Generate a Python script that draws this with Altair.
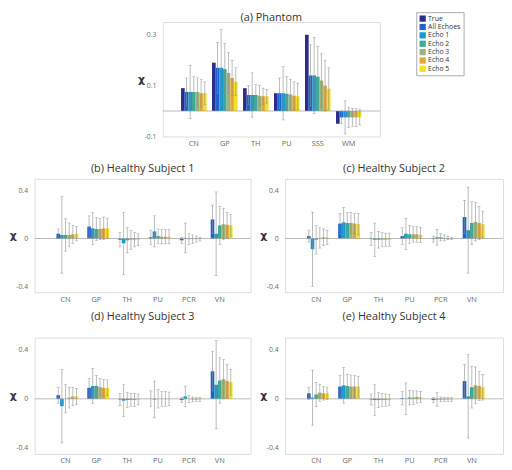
import altair as alt
import pandas as pd

SERIES = ["True", "All Echoes", "Echo 1", "Echo 2", "Echo 3", "Echo 4", "Echo 5"]
COLORS = ["#2B2C8C", "#1A64D0", "#1797D0", "#3BAA98", "#9DB37C", "#E3A63B", "#F3E022"]

PH_REGIONS = ["CN", "GP", "TH", "PU", "SSS", "WM"]
HS_REGIONS = ["CN", "GP", "TH", "PU", "PCR", "VN"]

# Phantom: mean per series for each region; std for echo series (True has none)
ph_mean = {
    "True":       [0.090, 0.190, 0.090, 0.070, 0.300, -0.050],
    "All Echoes": [0.075, 0.170, 0.063, 0.070, 0.140, -0.025],
    "Echo 1":     [0.075, 0.170, 0.063, 0.070, 0.140, -0.025],
    "Echo 2":     [0.075, 0.165, 0.063, 0.068, 0.135, -0.025],
    "Echo 3":     [0.075, 0.150, 0.060, 0.065, 0.120, -0.025],
    "Echo 4":     [0.070, 0.130, 0.058, 0.060, 0.100, -0.025],
    "Echo 5":     [0.070, 0.115, 0.058, 0.058, 0.088, -0.025],
}
ph_std = {
    "All Echoes": [0.055, 0.100, 0.037, 0.060, 0.120, 0.025],
    "Echo 1":     [0.105, 0.150, 0.087, 0.105, 0.150, 0.065],
    "Echo 2":     [0.060, 0.100, 0.042, 0.067, 0.120, 0.040],
    "Echo 3":     [0.055, 0.080, 0.040, 0.060, 0.105, 0.035],
    "Echo 4":     [0.055, 0.070, 0.032, 0.055, 0.100, 0.035],
    "Echo 5":     [0.045, 0.055, 0.027, 0.052, 0.082, 0.030],
}

HS_SERIES = SERIES[1:]
hs1_mean = {
    "All Echoes": [0.040, 0.100, -0.010, 0.010, -0.015, 0.160],
    "Echo 1":     [0.030, 0.085, -0.040, 0.060, 0.005, 0.040],
    "Echo 2":     [0.030, 0.080, -0.015, 0.020, -0.005, 0.110],
    "Echo 3":     [0.030, 0.080, -0.010, 0.015, -0.005, 0.120],
    "Echo 4":     [0.035, 0.085, -0.010, 0.015, -0.005, 0.115],
    "Echo 5":     [0.040, 0.085, -0.010, 0.015, -0.005, 0.110],
}
hs1_std = {
    "All Echoes": [0.040, 0.090, 0.060, 0.060, 0.025, 0.120],
    "Echo 1":     [0.320, 0.135, 0.260, 0.130, 0.125, 0.350],
    "Echo 2":     [0.135, 0.095, 0.105, 0.060, 0.045, 0.160],
    "Echo 3":     [0.100, 0.090, 0.080, 0.060, 0.035, 0.130],
    "Echo 4":     [0.075, 0.095, 0.060, 0.060, 0.025, 0.105],
    "Echo 5":     [0.060, 0.085, 0.050, 0.060, 0.015, 0.090],
}
hs2_mean = {
    "All Echoes": [0.020, 0.125, -0.005, 0.020, -0.005, 0.180],
    "Echo 1":     [-0.090, 0.135, -0.010, 0.040, 0.010, 0.070],
    "Echo 2":     [-0.010, 0.130, -0.010, 0.035, 0.010, 0.130],
    "Echo 3":     [0.005, 0.130, -0.010, 0.035, 0.005, 0.140],
    "Echo 4":     [0.010, 0.125, -0.010, 0.035, 0.005, 0.130],
    "Echo 5":     [0.010, 0.120, -0.010, 0.030, 0.000, 0.120],
}
hs2_std = {
    "All Echoes": [0.050, 0.085, 0.055, 0.070, 0.025, 0.140],
    "Echo 1":     [0.310, 0.125, 0.140, 0.130, 0.065, 0.360],
    "Echo 2":     [0.120, 0.090, 0.070, 0.075, 0.030, 0.180],
    "Echo 3":     [0.085, 0.090, 0.060, 0.065, 0.025, 0.160],
    "Echo 4":     [0.070, 0.085, 0.055, 0.065, 0.015, 0.140],
    "Echo 5":     [0.060, 0.090, 0.055, 0.065, 0.010, 0.110],
}
hs3_mean = {
    "All Echoes": [0.030, 0.090, -0.005, 0.000, -0.010, 0.225],
    "Echo 1":     [-0.060, 0.105, -0.015, -0.005, 0.020, 0.115],
    "Echo 2":     [0.000, 0.105, -0.010, 0.000, 0.000, 0.150],
    "Echo 3":     [0.010, 0.095, -0.010, 0.000, -0.005, 0.160],
    "Echo 4":     [0.020, 0.090, -0.010, 0.000, -0.005, 0.145],
    "Echo 5":     [0.020, 0.090, -0.005, 0.000, -0.005, 0.135],
}
hs3_std = {
    "All Echoes": [0.065, 0.075, 0.050, 0.065, 0.020, 0.160],
    "Echo 1":     [0.300, 0.145, 0.130, 0.150, 0.085, 0.360],
    "Echo 2":     [0.115, 0.085, 0.060, 0.075, 0.030, 0.185],
    "Echo 3":     [0.085, 0.070, 0.055, 0.060, 0.020, 0.160],
    "Echo 4":     [0.075, 0.070, 0.055, 0.060, 0.015, 0.135],
    "Echo 5":     [0.065, 0.065, 0.045, 0.055, 0.015, 0.105],
}
hs4_mean = {
    "All Echoes": [0.045, 0.100, -0.005, 0.005, -0.010, 0.145],
    "Echo 1":     [0.010, 0.110, -0.010, 0.000, -0.005, 0.020],
    "Echo 2":     [0.035, 0.105, -0.010, 0.010, -0.005, 0.095],
    "Echo 3":     [0.050, 0.100, -0.010, 0.010, -0.005, 0.110],
    "Echo 4":     [0.045, 0.100, -0.010, 0.015, -0.005, 0.105],
    "Echo 5":     [0.045, 0.100, -0.010, 0.015, -0.005, 0.095],
}
hs4_std = {
    "All Echoes": [0.050, 0.090, 0.045, 0.055, 0.020, 0.135],
    "Echo 1":     [0.225, 0.145, 0.125, 0.130, 0.055, 0.340],
    "Echo 2":     [0.100, 0.095, 0.060, 0.060, 0.020, 0.170],
    "Echo 3":     [0.070, 0.095, 0.055, 0.055, 0.015, 0.150],
    "Echo 4":     [0.055, 0.090, 0.050, 0.050, 0.015, 0.120],
    "Echo 5":     [0.050, 0.085, 0.045, 0.045, 0.015, 0.105],
}

FONT = "Open Sans"
TXT = "#333333"
LAB = "#6a6a6a"
ERR = "#8c8c8c"

COLOR_SCALE = alt.Scale(domain=SERIES, range=COLORS)


def make_df(regions, means, stds):
    rows = []
    for s, vals in means.items():
        for i, r in enumerate(regions):
            sd = stds.get(s)
            rows.append({
                "region": r, "series": s, "mean": vals[i],
                "lo": vals[i] - sd[i] if sd else None,
                "hi": vals[i] + sd[i] if sd else None,
                "has_err": sd is not None,
            })
    return pd.DataFrame(rows)


def panel(title, regions, series, means, stds, domain, ticks, w, h, pad,
          legend=None, title_offset=1):
    df = make_df(regions, means, stds)
    base = alt.Chart(df)
    x = alt.X("region:N", sort=regions,
              scale=alt.Scale(paddingInner=0, paddingOuter=0.5),
              axis=alt.Axis(title=None, labelAngle=0, ticks=False, domain=False,
                            labelFontSize=7.5, labelColor=LAB, labelFont=FONT, labelPadding=3))
    xo = alt.XOffset("series:N", sort=series,
                     scale=alt.Scale(domain=series, paddingInner=0, paddingOuter=pad))
    y = alt.Y("mean:Q", scale=alt.Scale(domain=domain, nice=False, zero=False),
              axis=alt.Axis(title="χ", values=ticks, labelExpr="toString(datum.value)",
                            grid=False, ticks=False, domain=False, labelOverlap=False,
                            labelFontSize=7, labelColor=LAB, labelFont=FONT, labelPadding=7,
                            titleAngle=0, titleFontSize=11, titleFontWeight="bold",
                            titleColor=TXT, titleFont="DejaVu Sans",
                            titleBaseline="middle", titlePadding=3))
    color = alt.Color("series:N", scale=COLOR_SCALE, legend=legend)
    bars = base.mark_bar().encode(x=x, xOffset=xo, y=y, y2=alt.datum(0), color=color)
    errbase = base.transform_filter("datum.has_err")
    err = errbase.mark_rule(color=ERR, strokeWidth=0.6).encode(
        x=x, xOffset=xo, y="lo:Q", y2="hi:Q")
    cap_hi = errbase.mark_tick(color=ERR, size=3, thickness=0.6, orient="horizontal").encode(
        x=x, xOffset=xo, y="hi:Q")
    cap_lo = errbase.mark_tick(color=ERR, size=3, thickness=0.6, orient="horizontal").encode(
        x=x, xOffset=xo, y="lo:Q")
    zero = alt.Chart(pd.DataFrame({"z": [0]})).mark_rule(
        color="#9a9a9a", strokeWidth=0.7).encode(y="z:Q")
    return alt.layer(bars, zero, err, cap_hi, cap_lo).properties(
        width=w, height=h,
        title=alt.TitleParams(title, fontSize=11, fontWeight="normal", font=FONT,
                              color=TXT, offset=title_offset))


legend = alt.Legend(title=None, orient="none", legendX=257, legendY=-10,
                    symbolType="square", symbolSize=40, symbolStrokeWidth=0,
                    labelFontSize=7, labelFont=FONT, labelColor=TXT,
                    rowPadding=0.5, strokeColor="#aaaaaa", padding=3,
                    labelOffset=2)

ph = panel("(a) Phantom", PH_REGIONS, SERIES, ph_mean, ph_std,
           [-0.1, 0.35], [-0.1, 0, 0.1, 0.2, 0.3], 220, 116, 0.75,
           legend=legend, title_offset=-11)

HS_DOM = [-0.45, 0.5]
HS_TICKS = [-0.4, -0.2, 0, 0.2, 0.4]
b = panel("(b) Healthy Subject 1", HS_REGIONS, HS_SERIES, hs1_mean, hs1_std, HS_DOM, HS_TICKS, 219, 115, 0.5, title_offset=5)
c = panel("(c) Healthy Subject 2", HS_REGIONS, HS_SERIES, hs2_mean, hs2_std, HS_DOM, HS_TICKS, 221, 115, 0.5, title_offset=5)
d = panel("(d) Healthy Subject 3", HS_REGIONS, HS_SERIES, hs3_mean, hs3_std, HS_DOM, HS_TICKS, 219, 118, 0.5, title_offset=16)
e = panel("(e) Healthy Subject 4", HS_REGIONS, HS_SERIES, hs4_mean, hs4_std, HS_DOM, HS_TICKS, 221, 118, 0.5, title_offset=16)

spacer = alt.Chart(pd.DataFrame({"a": [0]})).mark_point(opacity=0).encode(
    x=alt.X("a:Q", axis=None), y=alt.Y("a:Q", axis=None)).properties(
    width=102, height=1, view=alt.ViewBackground(stroke="transparent"))

row1 = alt.hconcat(spacer, ph, spacing=0).resolve_legend(color="independent")
row2 = alt.hconcat(b, c, spacing=7).resolve_legend(color="independent")
row3 = alt.hconcat(d, e, spacing=7).resolve_legend(color="independent")
lower = alt.vconcat(row2, row3, spacing=7).resolve_legend(color="independent")

chart = alt.vconcat(row1, lower, spacing=15).resolve_legend(
    color="independent").properties(padding=0).configure_view(
    stroke="#c8c8c8", strokeWidth=0.8).configure(background="white")

chart.save("out.html", embed_options={"renderer": "svg", "actions": False})
